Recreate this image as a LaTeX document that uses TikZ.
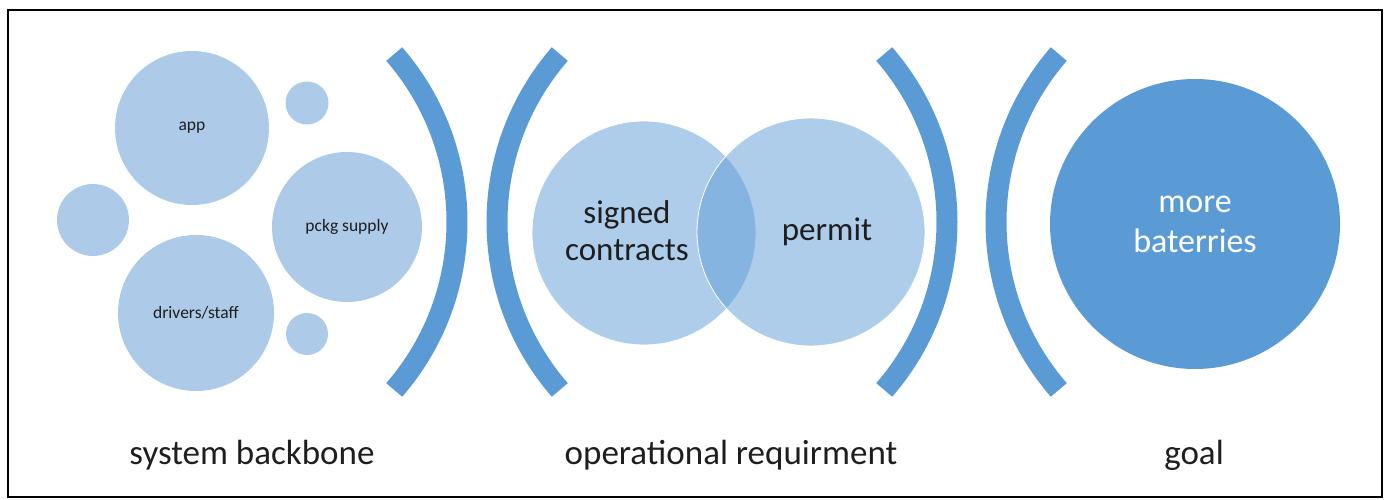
\documentclass[tikz,border=0pt]{standalone}
\usepackage{fontspec}
\setmainfont{Carlito}
\definecolor{accblue}{HTML}{5B9BD5}
\definecolor{lightblue}{HTML}{ADCBE9}
\definecolor{txtgray}{HTML}{1E1E1E}
\tikzset{
 bubble/.style={circle, fill=lightblue, inner sep=0pt, minimum size=#1, text=txtgray, font=\fontsize{17.5}{20}\selectfont},
 venn/.style={circle, fill=accblue, fill opacity=0.5, draw=white, line width=0.8pt, inner sep=0pt, minimum size=#1},
 bracketline/.style={draw=accblue, line width=21pt},
 vennlabel/.style={font=\fontsize{33}{37}\selectfont, align=center, text=txtgray},
 caption/.style={font=\fontsize{35}{40}\selectfont, text=txtgray, anchor=base}
}
\newcommand{\oklepaj}[2]{% x srediscu, zacetni kot
 \draw[bracketline] (#1,278) ++(#2:256) arc[start angle=#2, delta angle=82, radius=256];
}

\begin{document}
\begin{tikzpicture}[x=1pt,y=1pt]
\useasboundingbox (0,0) rectangle (1389,500);
\draw[line width=1.6pt] (8,3) rectangle (1382,490);

% system backbone
\node[bubble=154pt] (app) at (192,372) {app};
\node[bubble=150pt] (pckg) at (347,273) {pckg supply};
\node[bubble=156pt] (drivers) at (196,187) {drivers/staff};
\node[bubble=72pt] (dotl) at (93,280) {};
\node[bubble=43pt] (dottr) at (307,397) {};
\node[bubble=42pt] (dotbr) at (307,166) {};

% oklepaji
\oklepaj{201}{-41}
\oklepaj{753}{139}
\oklepaj{691}{-41}
\oklepaj{1252}{139}

% operational requirment
\node[venn=224pt] (contracts) at (644,267) {};
\node[venn=228pt] (permit) at (811,268) {};
\node[vennlabel] (contractstxt) at (627,269) {signed\\contracts};
\node[vennlabel] (permittxt) at (827,268) {permit};

% goal
\node[circle, fill=accblue, inner sep=0pt, minimum size=290pt, text=white,
 font=\fontsize{34}{40}\selectfont, align=center] (goal) at (1195,276) {more\\baterries};

\node[caption] (backbone) at (252,35) {system backbone};
\node[caption] (requirment) at (731,35) {operational requirment};
\node[caption] (goaltxt) at (1194,35) {goal};
\end{tikzpicture}
\end{document}
